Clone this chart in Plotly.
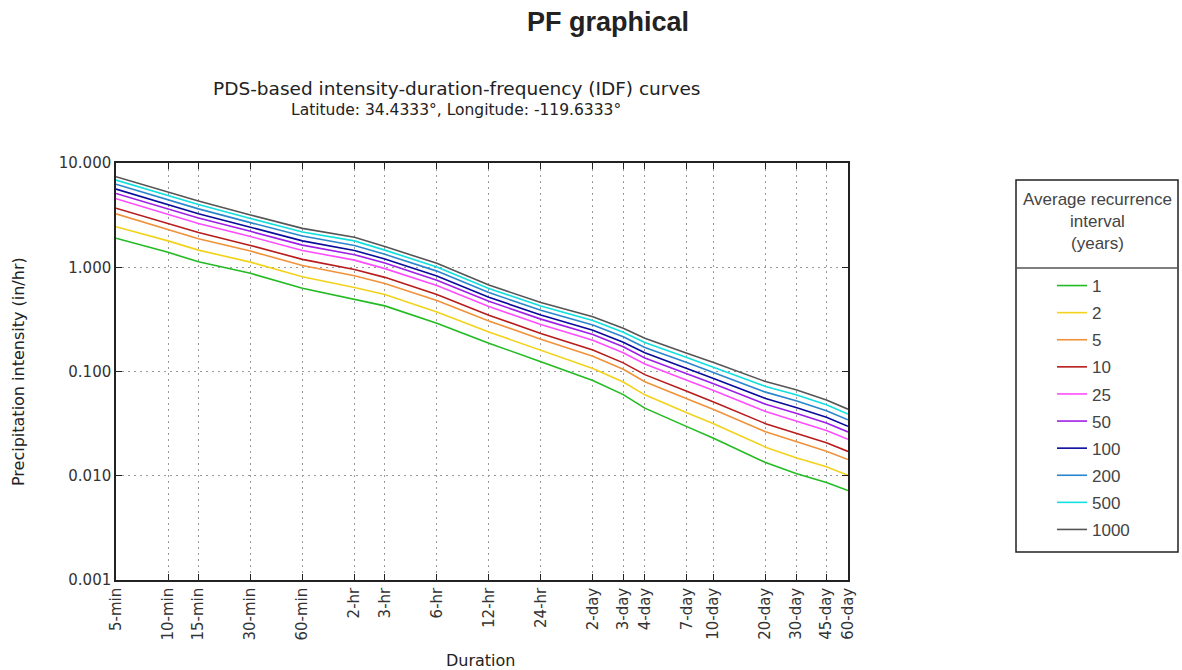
import plotly.graph_objects as go

# Durations in minutes and their tick labels
durations_min = [5, 10, 15, 30, 60, 120, 180, 360, 720, 1440, 2880, 4320, 5760,
                 10080, 14400, 28800, 43200, 64800, 86400]
duration_labels = ["5-min", "10-min", "15-min", "30-min", "60-min", "2-hr", "3-hr",
                   "6-hr", "12-hr", "24-hr", "2-day", "3-day", "4-day", "7-day",
                   "10-day", "20-day", "30-day", "45-day", "60-day"]

# Precipitation intensity (in/hr) per average recurrence interval
ari_1 = [1.90, 1.39, 1.13, 0.875, 0.63, 0.49, 0.426, 0.29, 0.187, 0.124, 0.082, 0.060,
         0.0445, 0.0296, 0.0229, 0.0134, 0.0105, 0.0086, 0.0072]
ari_2 = [2.45, 1.79, 1.46, 1.12, 0.81, 0.64, 0.547, 0.373, 0.239, 0.159, 0.107, 0.0793,
         0.0597, 0.0403, 0.0315, 0.0188, 0.0149, 0.0122, 0.0101]
ari_5 = [3.25, 2.31, 1.88, 1.43, 1.04, 0.83, 0.70, 0.48, 0.305, 0.204, 0.140, 0.105,
         0.0799, 0.0548, 0.0432, 0.0264, 0.0212, 0.0172, 0.0143]
ari_10 = [3.68, 2.65, 2.15, 1.62, 1.19, 0.95, 0.80, 0.548, 0.347, 0.232, 0.161, 0.121,
          0.0933, 0.0645, 0.0511, 0.0316, 0.0255, 0.0207, 0.0171]
ari_25 = [4.55, 3.23, 2.63, 1.97, 1.45, 1.17, 0.97, 0.668, 0.420, 0.282, 0.199, 0.151,
          0.118, 0.0823, 0.0657, 0.0413, 0.0337, 0.0272, 0.0224]
ari_50 = [5.10, 3.65, 2.97, 2.21, 1.63, 1.32, 1.10, 0.752, 0.472, 0.318, 0.226, 0.173,
          0.135, 0.0953, 0.0764, 0.0485, 0.0398, 0.0320, 0.0263]
ari_100 = [5.62, 4.01, 3.26, 2.42, 1.79, 1.45, 1.20, 0.826, 0.516, 0.348, 0.249, 0.191,
           0.151, 0.107, 0.0859, 0.0550, 0.0452, 0.0364, 0.0298]
ari_200 = [6.25, 4.46, 3.63, 2.68, 1.99, 1.62, 1.33, 0.918, 0.572, 0.387, 0.279, 0.215,
           0.170, 0.122, 0.0981, 0.0634, 0.0524, 0.0421, 0.0344]
ari_500 = [6.85, 4.90, 3.99, 2.94, 2.18, 1.79, 1.46, 1.007, 0.626, 0.424, 0.308, 0.238,
           0.190, 0.136, 0.110, 0.0719, 0.0597, 0.0479, 0.0391]
ari_1000 = [7.39, 5.31, 4.32, 3.17, 2.36, 1.94, 1.58, 1.09, 0.676, 0.458, 0.335, 0.260,
            0.208, 0.150, 0.122, 0.080, 0.0667, 0.0534, 0.0435]

series_names = ["1", "2", "5", "10", "25", "50", "100", "200", "500", "1000"]
series_values = [ari_1, ari_2, ari_5, ari_10, ari_25, ari_50, ari_100, ari_200, ari_500, ari_1000]
series_colors = ["#22bb22", "#f2d21a", "#f0923a", "#b81c1c", "#ff4cff", "#a01ee8",
                 "#0a0a9c", "#2a86cc", "#10e0e0", "#555555"]

y_tickvals = [0.001, 0.01, 0.1, 1, 10]
y_ticktext = ["0.001", "0.010", "0.100", "1.000", "10.000"]

# Layout geometry (pixels)
W, H = 1182, 670
L, R, T, B = 116, 848, 163, 580
pw, ph = R - L, B - T


def px(x):
    return (x - L) / pw


def py(y):
    return (B - y) / ph


fig = go.Figure()
for name, vals, col in zip(series_names, series_values, series_colors):
    fig.add_trace(go.Scatter(
        x=durations_min, y=vals, mode="lines", name=name, legendgroup=name,
        line=dict(color=col, width=1.6),
    ))

axis_font = dict(family="DejaVu Sans", size=15, color="#333333")

fig.update_layout(
    width=W, height=H,
    margin=dict(l=L, r=W - R, t=T, b=H - B, pad=0),
    paper_bgcolor="white", plot_bgcolor="white",
    showlegend=True,
    legend=dict(
        x=px(1052), y=py(268), xanchor="left", yanchor="top",
        font=dict(family="Liberation Sans", size=17, color="#444444"),
        bgcolor="rgba(0,0,0,0)", borderwidth=0,
        traceorder="grouped", tracegroupgap=2, itemwidth=30,
    ),
    xaxis=dict(
        type="log",
        range=[0.69897, 4.936514],
        tickmode="array", tickvals=durations_min, ticktext=duration_labels,
        tickangle=-90, tickfont=axis_font,
        ticks="inside", ticklen=6, tickcolor="#222222",
        showline=True, linecolor="#222222", linewidth=1.5, mirror="ticks",
        showgrid=True, gridcolor="#999999", griddash="2px,4px", gridwidth=1,
        zeroline=False,
    ),
    yaxis=dict(
        type="log",
        range=[-3, 1],
        tickmode="array", tickvals=y_tickvals, ticktext=y_ticktext,
        tickfont=axis_font,
        ticks="inside", ticklen=6, tickcolor="#222222",
        showline=True, linecolor="#222222", linewidth=1.5, mirror="ticks",
        showgrid=True, gridcolor="#999999", griddash="2px,4px", gridwidth=1,
        zeroline=False,
    ),
)

annotations = [
    dict(text="<b>PF graphical</b>", x=px(608), y=py(22), xref="paper", yref="paper",
         showarrow=False, xanchor="center", yanchor="middle",
         font=dict(family="Liberation Sans", size=27, color="#222222")),
    dict(text="PDS-based intensity-duration-frequency (IDF) curves", x=px(456), y=py(88),
         xref="paper", yref="paper", showarrow=False, xanchor="center", yanchor="middle",
         font=dict(family="DejaVu Sans", size=18.5, color="#222222")),
    dict(text="Latitude: 34.4333°, Longitude: -119.6333°", x=px(456), y=py(110),
         xref="paper", yref="paper", showarrow=False, xanchor="center", yanchor="middle",
         font=dict(family="DejaVu Sans", size=15.5, color="#222222")),
    dict(text="Duration", x=px(481), y=py(660), xref="paper", yref="paper",
         showarrow=False, xanchor="center", yanchor="middle",
         font=dict(family="DejaVu Sans", size=16, color="#222222")),
    dict(text="Precipitation intensity (in/hr)", x=px(18), y=py(371), xref="paper",
         yref="paper", showarrow=False, xanchor="center", yanchor="middle", textangle=-90,
         font=dict(family="DejaVu Sans", size=16, color="#222222")),
    dict(text="Average recurrence<br>interval<br>(years)", x=px(1097), y=py(221),
         xref="paper", yref="paper", showarrow=False, xanchor="center", yanchor="middle",
         align="center",
         font=dict(family="Liberation Sans", size=17, color="#444444")),
]
fig.update_layout(annotations=annotations)

fig.update_layout(shapes=[
    dict(type="rect", xref="paper", yref="paper", x0=px(1016), x1=px(1178),
         y0=py(552), y1=py(180), line=dict(color="#222222", width=1.5),
         fillcolor="rgba(0,0,0,0)"),
    dict(type="line", xref="paper", yref="paper", x0=px(1016), x1=px(1178),
         y0=py(268), y1=py(268), line=dict(color="#555555", width=1.5)),
])

fig.write_html("out.html")
